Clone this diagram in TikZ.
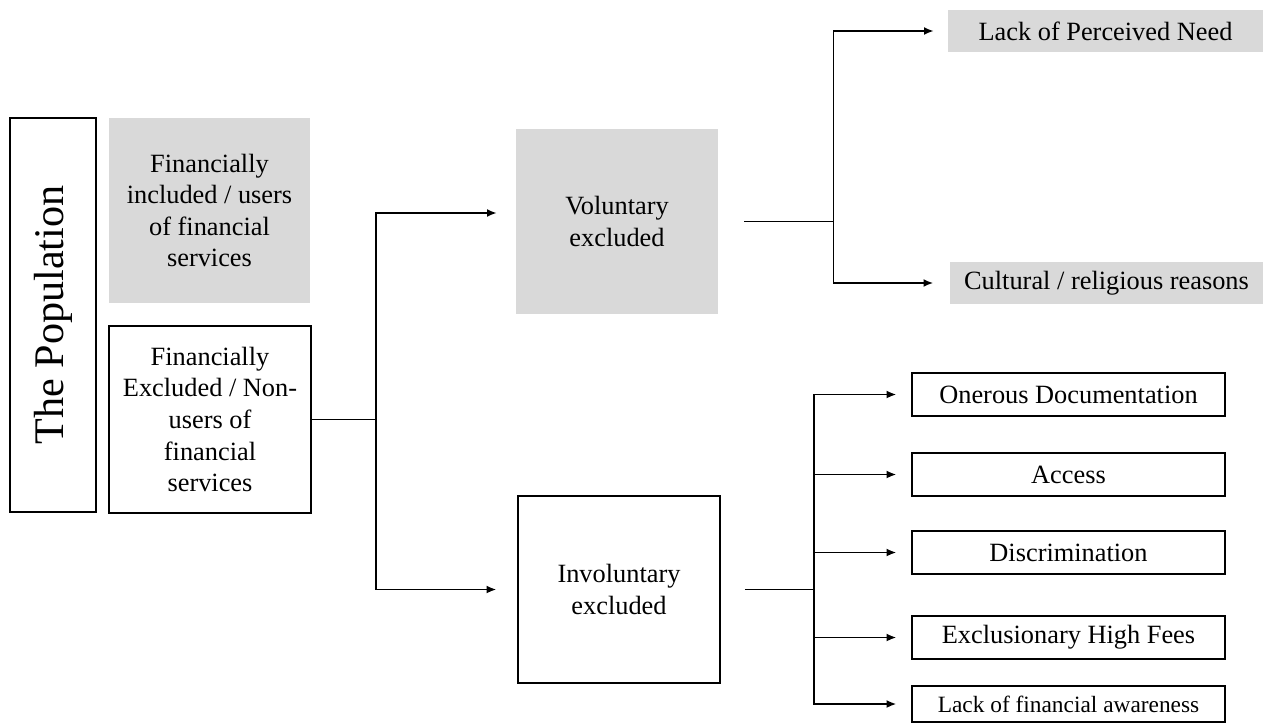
\documentclass[tikz,border=0pt]{standalone}
\usepackage{fontspec}
\setmainfont{Liberation Serif}
\usetikzlibrary{arrows.meta}
\definecolor{boxgray}{RGB}{217,217,217}

\tikzset{
  plain/.style={draw, line width=0.9pt, align=center, inner sep=2pt, font=\fontsize{15}{18}\selectfont},
  shaded/.style={fill=boxgray, align=center, inner sep=2pt, font=\fontsize{15}{18}\selectfont},
  reason/.style={plain, minimum width=6.26cm, minimum height=0.86cm},
  link/.style={line width=0.9pt},
  arrow/.style={link, -{Latex[length=5.5pt,width=4.5pt]}, shorten >=0.3cm}
}

\begin{document}
\begin{tikzpicture}[x=0.02cm, y=-0.02cm]
    \useasboundingbox (0,0) rectangle (1264,723);

    % population and its two groups
    \node [plain, rotate=90, minimum width=7.88cm, minimum height=1.72cm, font=\fontsize{24}{28}\selectfont] (pop) at (53,315) {The Population};
    \node [shaded, minimum width=4.02cm, minimum height=3.7cm] (incl) at (209.5,210.5) {Financially\\included / users\\of financial\\services};
    \node [plain, minimum width=4.04cm, minimum height=3.74cm] (excl) at (210,419.5) {Financially\\Excluded / Non-\\users of\\financial\\services};

    \node [shaded, minimum width=4.04cm, minimum height=3.7cm] (vol) at (617,221.5) {Voluntary\\excluded};
    \node [plain, minimum width=4.04cm, minimum height=3.74cm] (invol) at (619,589.5) {Involuntary\\excluded};

    \node [shaded, minimum width=6.3cm, minimum height=0.84cm] (need) at (1105.5,31) {Lack of Perceived Need};
    \node [shaded, minimum width=6.28cm, minimum height=0.86cm] (cult) at (1106.5,283) {Cultural / religious reasons};

    \node [reason] (oner) at (1068.5,394.5) {Onerous Documentation};
    \node [reason] (access) at (1068.5,474.5) {Access};
    \node [reason] (discr) at (1068.5,552.5) {Discrimination};
    \node [reason] (fees) at (1068.5,637.5) {Exclusionary High Fees};
    \node [reason, minimum height=0.72cm, font=\fontsize{13.3}{16}\selectfont] (aware) at (1068.5,704) {Lack of financial awareness};

    \coordinate (s1) at ([xshift=1.28cm]excl.east);
    \coordinate (s2) at ([xshift=2.3cm]vol.east);
    \coordinate (s3) at ([xshift=1.86cm]invol.east);

    \draw [link] (excl.east) -- (s1);
    \draw [arrow, shorten >=0.38cm] (s1) |- ([yshift=0.17cm]vol.west);
    \draw [arrow, shorten >=0.42cm] (s1) |- (invol.west);

    \draw [link, shorten <=0.52cm] (vol.east) -- (s2);
    \draw [arrow, shorten >=0.28cm] (s2) |- (need.west);
    \draw [arrow, shorten >=0.32cm] (s2) |- (cult.west);

    \draw [link, shorten <=0.48cm] (invol.east) -- (s3);
    \foreach \n in {oner,access,discr,fees,aware}
        \draw [arrow] (s3) |- (\n.west);
\end{tikzpicture}
\end{document}
